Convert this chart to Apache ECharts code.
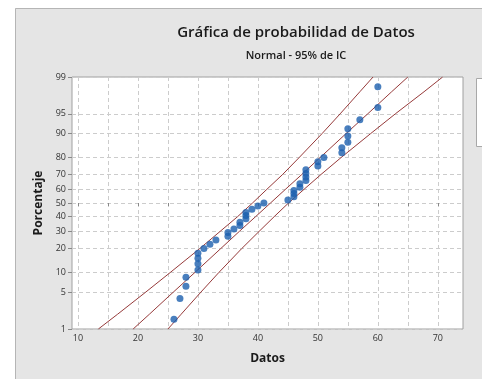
<!DOCTYPE html>
<html>
<head>
<meta charset="utf-8">
<script src="https://cdn.jsdelivr.net/npm/echarts@6/dist/echarts.min.js"></script>
<style>
html, body { margin: 0; padding: 0; background: #fff; }
#grafica { width: 482px; height: 379px; }
</style>
</head>
<body>
<div id="grafica"></div>
<script>
// datos ordenados y su porcentaje (rango mediano)
var datos = [26, 27, 28, 28, 30, 30, 30, 30, 31, 32, 33, 35, 35, 36, 37, 37, 38, 38, 38, 39, 40, 41,
             45, 46, 46, 46, 47, 47, 48, 48, 48, 48, 50, 50, 51, 54, 54, 55, 55, 55, 57, 60, 60];
var porcentajes = [1.6, 3.9, 6.2, 8.5, 10.8, 13.1, 15.4, 17.7, 20.0, 22.3, 24.7, 27.0, 29.3, 31.6, 33.9,
                   36.2, 38.5, 40.8, 43.1, 45.4, 47.7, 50.0, 52.3, 54.6, 56.9, 59.2, 61.5, 63.8, 66.1,
                   68.4, 70.7, 73.0, 75.3, 77.7, 80.0, 82.3, 84.6, 86.9, 89.2, 91.5, 93.8, 96.1, 98.4];

// linea ajustada y bandas de confianza del 95%
var bandaPct   = [1, 2, 5, 10, 20, 30, 40, 50, 60, 70, 80, 90, 95, 98, 99];
var lineaAjuste = [19.2, 21.9, 25.9, 29.5, 33.8, 36.9, 39.6, 42.1, 44.6, 47.3, 50.4, 54.7, 58.3, 62.3, 65.0];
var limiteInf  = [13.4, 16.6, 21.3, 25.4, 30.3, 33.7, 36.6, 39.1, 41.5, 44.1, 46.9, 50.7, 53.7, 57.0, 59.2];
var limiteSup  = [25.0, 27.2, 30.5, 33.5, 37.3, 40.2, 42.7, 45.1, 47.7, 50.5, 53.9, 58.8, 62.9, 67.7, 70.8];

var ticksPct = [1, 5, 10, 20, 30, 40, 50, 60, 70, 80, 90, 95, 99];
var ticksX = [10, 20, 30, 40, 50, 60, 70];
var rejillaX = [10, 15, 20, 25, 30, 35, 40, 45, 50, 55, 60, 65, 70];

// escala de probabilidad normal: porcentaje -> z
function probit(p) {
    var a = [-3.969683028665376e+01, 2.209460984245205e+02, -2.759285104469687e+02, 1.383577518672690e+02, -3.066479806614716e+01, 2.506628277459239e+00];
    var b = [-5.447609879822406e+01, 1.615858368580409e+02, -1.556989798598866e+02, 6.680131188771972e+01, -1.328068155288572e+01];
    var c = [-7.784894002430293e-03, -3.223964580411365e-01, -2.400758277161838e+00, -2.549732539343734e+00, 4.374664141464968e+00, 2.938163982698783e+00];
    var d = [7.784695709041462e-03, 3.224671290700398e-01, 2.445134137142996e+00, 3.754408661907416e+00];
    var q, r;
    if (p < 0.02425) {
        q = Math.sqrt(-2 * Math.log(p));
        return (((((c[0]*q+c[1])*q+c[2])*q+c[3])*q+c[4])*q+c[5]) / ((((d[0]*q+d[1])*q+d[2])*q+d[3])*q+1);
    }
    if (p <= 1 - 0.02425) {
        q = p - 0.5; r = q * q;
        return (((((a[0]*r+a[1])*r+a[2])*r+a[3])*r+a[4])*r+a[5])*q / (((((b[0]*r+b[1])*r+b[2])*r+b[3])*r+b[4])*r+1);
    }
    q = Math.sqrt(-2 * Math.log(1 - p));
    return -(((((c[0]*q+c[1])*q+c[2])*q+c[3])*q+c[4])*q+c[5]) / ((((d[0]*q+d[1])*q+d[2])*q+d[3])*q+1);
}
function z(pct) { return probit(pct / 100); }

function pares(xs, ps) {
    return xs.map(function (x, i) { return [x, z(ps[i])]; });
}

var fuente = 'Open Sans';
var colorLinea = '#963a3a';

var grafica = echarts.init(document.getElementById('grafica'));
option = {
    backgroundColor: '#e5e5e5',
    animation: false,
    graphic: [
        // margen blanco arriba e izquierda
        { type: 'rect', shape: { x: 0, y: 0, width: 482, height: 8 }, style: { fill: '#fff' } },
        { type: 'rect', shape: { x: 0, y: 0, width: 15, height: 379 }, style: { fill: '#fff' } },
        { type: 'polyline', shape: { points: [[15.5, 379], [15.5, 8.5], [482, 8.5]] }, style: { stroke: '#b5b5b5', fill: null, lineWidth: 1 } },
        // recuadro de leyenda (cortado)
        { type: 'rect', shape: { x: 476.5, y: 78.5, width: 20, height: 68 }, style: { fill: '#fff', stroke: '#a8a8a8', lineWidth: 1 } },
        { type: 'text', x: 296, y: 25, style: { text: 'Gráfica de probabilidad de Datos', font: '600 15px "Open Sans"', fill: '#1a1a1a', textAlign: 'center' } },
        { type: 'text', x: 296, y: 50, style: { text: 'Normal - 95% de IC', font: '600 11px "Open Sans"', fill: '#1a1a1a', textAlign: 'center' } }
    ],
    grid: {
        left: 72, top: 77, right: 19, bottom: 50,
        show: true, backgroundColor: '#fff', borderColor: '#a0a0a0', borderWidth: 1
    },
    xAxis: {
        type: 'value', min: 9, max: 74.2,
        name: 'Datos', nameLocation: 'middle', nameGap: 24,
        nameTextStyle: { fontFamily: fuente, fontSize: 12, fontWeight: 'bold', color: '#1a1a1a' },
        axisLine: { show: false },
        axisTick: { show: true, customValues: rejillaX, length: 3, lineStyle: { color: '#888' } },
        axisLabel: { customValues: ticksX, fontFamily: fuente, fontSize: 9, color: '#333', margin: 5 },
        splitLine: { show: true, lineStyle: { color: '#cccccc', type: [4, 3] } }
    },
    yAxis: {
        type: 'value', min: z(1), max: z(99),
        name: 'Porcentaje', nameLocation: 'middle', nameGap: 27,
        nameTextStyle: { fontFamily: fuente, fontSize: 12, fontWeight: 'bold', color: '#1a1a1a' },
        axisLine: { show: false },
        axisTick: { show: true, customValues: ticksPct.map(z), length: 4, lineStyle: { color: '#888' } },
        axisLabel: {
            customValues: ticksPct.map(z), fontFamily: fuente, fontSize: 9, color: '#333', margin: 6,
            formatter: function (v) {
                for (var i = 0; i < ticksPct.length; i++) {
                    if (Math.abs(z(ticksPct[i]) - v) < 1e-6) return String(ticksPct[i]);
                }
                return '';
            }
        },
        splitLine: { show: true, lineStyle: { color: '#cccccc', type: [4, 3] } }
    },
    series: [
        { type: 'line', data: pares(limiteInf, bandaPct), showSymbol: false, silent: true,
          lineStyle: { color: colorLinea, width: 1 }, z: 3 },
        { type: 'line', data: pares(lineaAjuste, bandaPct), showSymbol: false, silent: true,
          lineStyle: { color: colorLinea, width: 1 }, z: 3 },
        { type: 'line', data: pares(limiteSup, bandaPct), showSymbol: false, silent: true,
          lineStyle: { color: colorLinea, width: 1 }, z: 3 },
        { type: 'scatter', data: pares(datos, porcentajes), symbolSize: 7,
          itemStyle: { color: '#1c5fae' }, z: 4 }
    ]
};
grafica.setOption(option);
</script>
</body>
</html>
